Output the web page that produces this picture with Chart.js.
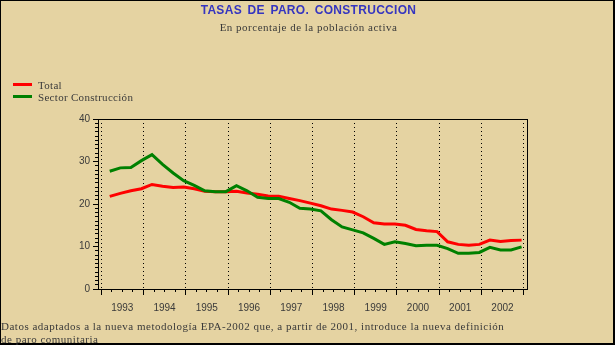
<!DOCTYPE html>
<html>
<head>
<meta charset="utf-8">
<script src="https://cdn.jsdelivr.net/npm/chart.js@4/dist/chart.umd.min.js"></script>
<style>
    html, body { margin: 0; padding: 0; }
    body { width: 615px; height: 345px; overflow: hidden; }
    #container {
        position: relative;
        width: 615px;
        height: 345px;
        box-sizing: border-box;
        background: #e5d3a2;
        border: 2px solid #000;
        border-width: 1px 2px 2px 1px;
    }
    #stockChart { position: absolute; left: -1px; top: -1px; }
    .txt { position: absolute; color: #3a3a3a; font-family: "Liberation Serif", serif; font-size: 11px; white-space: nowrap; line-height: 13px; letter-spacing: 0.5px; }
    #title { left: 0; width: 615px; top: 3px; text-align: center; color: #3535c0; font-family: "Liberation Sans", sans-serif; font-weight: bold; font-size: 12px; letter-spacing: 0.3px; word-spacing: 2px; }
    #subtitle { left: 0; width: 615px; top: 20px; text-align: center; }
    .legend-line { position: absolute; width: 19px; height: 3px; }
</style>
</head>
<body>
<div id="container">
    <canvas id="stockChart" width="615" height="345"></canvas>
    <div class="txt" id="title">TASAS DE PARO. CONSTRUCCION</div>
    <div class="txt" id="subtitle">En porcentaje de la población activa</div>
    <div id="legend"></div>
    <div class="txt" style="left:0; top:319px;">Datos adaptados a la nueva metodología EPA-2002 que, a partir de 2001, introduce la nueva definición</div>
    <div class="txt" style="left:0; top:332px;">de paro comunitaria</div>
</div>
<script>
// quarterly unemployment rates, 1993-I .. 2002-IV
const years = [1993, 1994, 1995, 1996, 1997, 1998, 1999, 2000, 2001, 2002];
const quarters = ['I', 'II', 'III', 'IV'];
const total = [21.8, 22.5, 23.1, 23.6, 24.6, 24.2, 23.9, 24.0, 23.6, 23.0,
               22.9, 22.9, 23.0, 22.6, 22.3, 21.9, 21.8, 21.3, 20.8, 20.2,
               19.6, 18.8, 18.5, 18.1, 17.0, 15.6, 15.3, 15.3, 15.0, 14.0,
               13.7, 13.5, 11.1, 10.5, 10.3, 10.5, 11.5, 11.2, 11.4, 11.5];
const construccion = [27.7, 28.5, 28.6, 30.2, 31.6, 29.3, 27.3, 25.5, 24.4, 23.1,
                      22.9, 22.9, 24.3, 23.1, 21.6, 21.3, 21.3, 20.4, 19.0, 18.8,
                      18.4, 16.3, 14.6, 13.9, 13.2, 11.9, 10.5, 11.1, 10.7, 10.2,
                      10.3, 10.3, 9.5, 8.4, 8.4, 8.6, 9.8, 9.2, 9.2, 9.9];
const yTicks = [0, 10, 20, 30, 40];
const seriesNames = ['Total', 'Sector Construcción'];
const seriesColors = ['#ff0000', '#008000'];

// time position of each quarter on the x axis
const timeAxis = [];
years.forEach(y => quarters.forEach((q, i) => timeAxis.push(y + 0.2 + i * 0.25)));

const xMin = 1992.922, xMax = 2003.078;
const yearTicks = years.concat([years[years.length - 1] + 1]);
const quarterTicks = [];
for (let t = years[0]; t <= yearTicks[yearTicks.length - 1] + 0.001; t += 0.25) quarterTicks.push(t);

// legend
const legendEl = document.getElementById('legend');
seriesNames.forEach((name, i) => {
    const line = document.createElement('div');
    line.className = 'legend-line';
    line.style.left = '12px';
    line.style.top = (82 + i * 12) + 'px';
    line.style.background = seriesColors[i];
    legendEl.appendChild(line);
    const label = document.createElement('div');
    label.className = 'txt';
    label.style.left = '37px';
    label.style.top = (78 + i * 12) + 'px';
    label.style.letterSpacing = '0.3px';
    label.textContent = name;
    legendEl.appendChild(label);
});

const toPoints = arr => arr.map((v, i) => ({ x: timeAxis[i], y: v }));

const axisFont = { family: 'Liberation Sans', size: 10 };

const config = {
    type: 'line',
    data: {
        datasets: [{
            label: seriesNames[0],
            data: toPoints(total),
            borderColor: seriesColors[0],
            borderWidth: 3,
            pointRadius: 0,
            tension: 0,
            order: 1
        }, {
            label: seriesNames[1],
            data: toPoints(construccion),
            borderColor: seriesColors[1],
            borderWidth: 3,
            pointRadius: 0,
            tension: 0,
            order: 0
        }]
    },
    options: {
        responsive: false,
        animation: false,
        devicePixelRatio: 1,
        layout: { padding: { left: 61, top: 119, right: 88, bottom: 31 } },
        plugins: { legend: { display: false }, tooltip: { enabled: false } },
        scales: {
            x: {
                type: 'linear', position: 'bottom', weight: 1,
                min: xMin, max: xMax,
                afterBuildTicks: axis => { axis.ticks = yearTicks.map(v => ({ value: v })); },
                afterFit: axis => { axis.height = 25; },
                ticks: {
                    autoSkip: false, maxRotation: 0, labelOffset: 21, padding: 7,
                    color: '#3a3a3a', font: axisFont,
                    callback: v => (years.includes(v) ? String(v) : '')
                },
                grid: {
                    drawOnChartArea: true, color: '#000', lineWidth: 1,
                    tickLength: 6, tickColor: '#000', tickBorderDash: []
                },
                border: { display: true, color: '#000', width: 1, dash: [1, 3] }
            },
            xq: {
                type: 'linear', position: 'bottom', weight: 0,
                min: xMin, max: xMax,
                afterBuildTicks: axis => { axis.ticks = quarterTicks.map(v => ({ value: v })); },
                afterFit: axis => { axis.height = 0; },
                ticks: { display: false },
                grid: { drawOnChartArea: false, tickLength: 3, tickColor: '#000' },
                border: { display: true, color: '#000', width: 1 }
            },
            y: {
                type: 'linear', position: 'left', weight: 1,
                min: 0, max: 40,
                afterBuildTicks: axis => { axis.ticks = yTicks.map(v => ({ value: v })); },
                afterFit: axis => { axis.width = 37; },
                ticks: { padding: 3, color: '#3a3a3a', font: axisFont },
                grid: { drawOnChartArea: false, tickLength: 5, tickColor: '#000' },
                border: { display: true, color: '#000', width: 1 }
            },
            yq: {
                type: 'linear', position: 'left', weight: 0,
                min: 0, max: 40,
                afterBuildTicks: axis => {
                    const t = [];
                    for (let v = 0; v <= 40; v++) t.push({ value: v });
                    axis.ticks = t;
                },
                afterFit: axis => { axis.width = 0; },
                ticks: { display: false },
                grid: { drawOnChartArea: false, tickLength: 3, tickColor: '#000' },
                border: { display: true, color: '#000', width: 1 }
            },
            xTop: {
                type: 'linear', position: 'top',
                afterFit: axis => { axis.height = 0; },
                ticks: { display: false },
                grid: { display: false },
                border: { display: true, color: '#000', width: 1 }
            },
            yRight: {
                type: 'linear', position: 'right',
                afterFit: axis => { axis.width = 0; },
                ticks: { display: false },
                grid: { display: false },
                border: { display: true, color: '#000', width: 1 }
            }
        }
    }
};

const ctx = document.getElementById('stockChart').getContext('2d');
const myChart = new Chart(ctx, config);
</script>
</body>
</html>
